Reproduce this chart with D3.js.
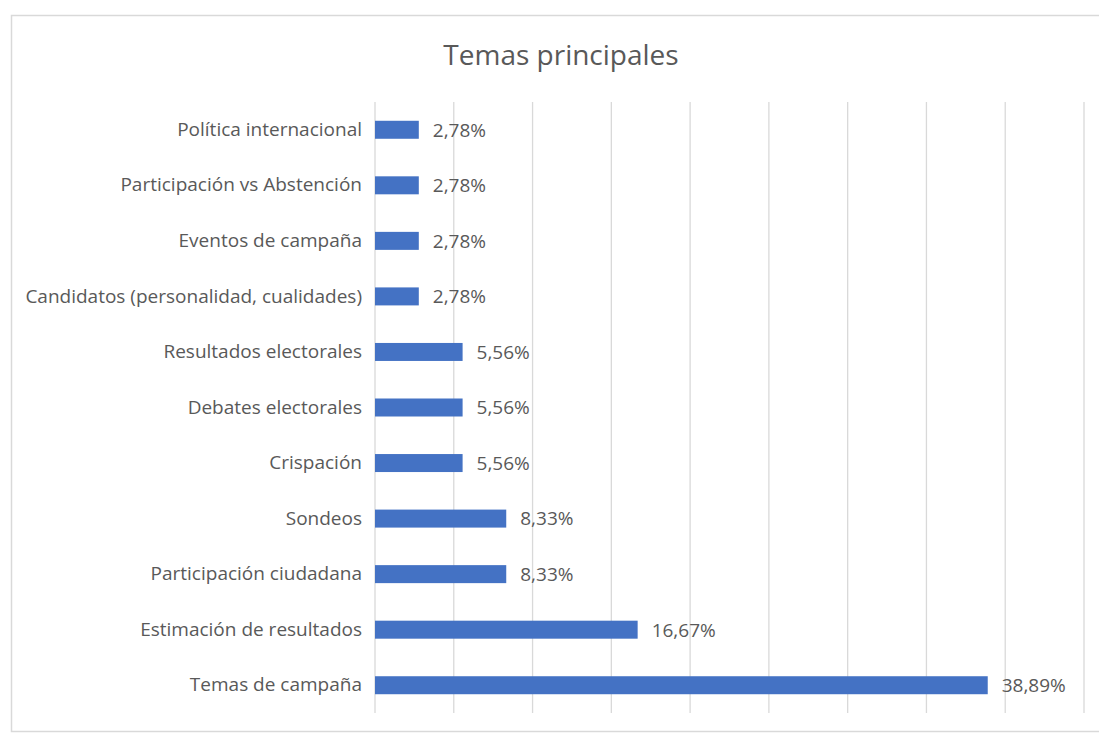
<!DOCTYPE html>
<html>
<head>
<meta charset="utf-8">
<script src="https://cdn.jsdelivr.net/npm/d3@7"></script>
<style>
  html, body { margin: 0; padding: 0; background: #fff; }
  svg { display: block; }
</style>
</head>
<body>
<svg id="chart" width="1099" height="735"></svg>
<script>
const categories = [
  "Política internacional",
  "Participación vs Abstención",
  "Eventos de campaña",
  "Candidatos (personalidad, cualidades)",
  "Resultados electorales",
  "Debates electorales",
  "Crispación",
  "Sondeos",
  "Participación ciudadana",
  "Estimación de resultados",
  "Temas de campaña"
];
const values = [2.78, 2.78, 2.78, 2.78, 5.56, 5.56, 5.56, 8.33, 8.33, 16.67, 38.89];
const xTicks = [0, 5, 10, 15, 20, 25, 30, 35, 40, 45];
const title = "Temas principales";

const svg = d3.select("#chart");
const font = "'Open Sans', 'DejaVu Sans', sans-serif";

// outer frame
svg.append("rect")
  .attr("x", 11.5).attr("y", 15.5)
  .attr("width", 1100).attr("height", 716)
  .attr("fill", "#fff")
  .attr("stroke", "#d9d9d9").attr("stroke-width", 1.5);

const m = { left: 375, right: 1084, top: 102, bottom: 713 };

const x = d3.scaleLinear().domain([0, 45]).range([m.left, m.right]);
const y = d3.scaleBand().domain(categories).range([m.top, m.bottom]).paddingInner(0.676).paddingOuter(0.338);

// gridlines
svg.append("g")
  .selectAll("line")
  .data(xTicks)
  .join("line")
  .attr("x1", d => x(d)).attr("x2", d => x(d))
  .attr("y1", m.top).attr("y2", m.bottom)
  .attr("stroke", "#d9d9d9").attr("stroke-width", 1.3);

// title
svg.append("text")
  .attr("x", 561).attr("y", 65)
  .attr("text-anchor", "middle")
  .attr("font-family", font)
  .attr("font-size", 28)
  .attr("fill", "#595959")
  .text(title);

// bars
svg.append("g")
  .selectAll("rect")
  .data(values)
  .join("rect")
  .attr("x", x(0))
  .attr("y", (d, i) => y(categories[i]))
  .attr("width", d => x(d) - x(0))
  .attr("height", y.bandwidth())
  .attr("fill", "#4472c4");

// value labels
svg.append("g")
  .selectAll("text")
  .data(values)
  .join("text")
  .attr("x", d => x(d) + 14)
  .attr("y", (d, i) => y(categories[i]) + y.bandwidth() / 2)
  .attr("dy", "0.36em")
  .attr("font-family", font)
  .attr("font-size", 19)
  .attr("fill", "#595959")
  .text(d => d.toFixed(2).replace(".", ",") + "%");

// category axis labels
const yAxis = d3.axisLeft(y).tickSize(0).tickPadding(13);
const ga = svg.append("g").attr("transform", `translate(${m.left},0)`).call(yAxis);
ga.select(".domain").remove();
ga.selectAll("text")
  .attr("font-family", font)
  .attr("font-size", 19)
  .attr("fill", "#595959");
</script>
</body>
</html>
